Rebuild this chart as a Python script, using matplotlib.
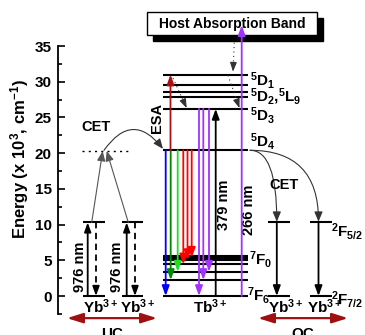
import numpy as np
import matplotlib
matplotlib.use('Agg')
import matplotlib.pyplot as plt
from matplotlib.patches import FancyArrowPatch, Rectangle

plt.rcParams['font.family'] = ['Liberation Sans', 'DejaVu Sans']
plt.rcParams['font.weight'] = 'bold'
plt.rcParams['mathtext.default'] = 'regular'

# Energy levels, in 10^3 cm^-1
yb_levels = [0.0, 10.3]                          # Yb3+ 2F7/2, 2F5/2
tb_5d_levels = [31.0, 29.6, 28.5, 27.8, 26.2]    # 5D1, 5D2/5L9 ..., 5D3
tb_5d4 = 20.4
tb_7f_levels = [5.64, 5.36, 5.03, 4.43, 3.4, 2.24, 0.0]   # 7F0 ... 7F6
uc_pair_level = 20.3
host_band_top = 37.9

# emission from 5D4 and 5D3: (colour, final 7F_J)
d4_emission = [('#0000ff', 6), ('#008800', 5), ('#22dd22', 4),
               ('#ff0000', 3), ('#ff0000', 2), ('#ff0000', 1)]
d3_emission = [('#a033ff', 6), ('#a033ff', 5), ('#a033ff', 4)]
excitations = [('379 nm', 'black', 26.2), ('266 nm', '#a033ff', host_band_top)]

# horizontal layout (x runs over the figure width)
d4_x = [165.7, 170.7, 177.7, 183.3, 187.5, 191.7]
d3_x = [199.0, 203.3, 209.0]
tb_span = (163, 248)
uc_spans = [(82.7, 105.0), (121.7, 143.3)]
qc_spans = [(268.3, 290.0), (310.0, 331.7)]

k = 250 / 35.0   # pixels per unit energy

fig = plt.figure(figsize=(3.65, 3.35), dpi=100)
ax = fig.add_axes([0, 0, 1, 1])
ax.set_xlim(0, 365)
ax.set_ylim(-39 / k, 296 / k)
ax.patch.set_visible(False)
for s in ['top', 'right', 'bottom']:
    ax.spines[s].set_visible(False)
ax.spines['left'].set_position(('data', 58.3))
ax.spines['left'].set_bounds(-2.5, 35)
ax.spines['left'].set_linewidth(1.3)
ax.set_xticks([])
ax.set_yticks(np.arange(0, 36, 5))
ax.set_yticks(np.arange(-2.5, 35, 2.5), minor=True)
ax.tick_params(axis='y', which='both', direction='in', width=1.2, labelsize=11, pad=4.6)
ax.tick_params(axis='y', which='major', length=5)
ax.tick_params(axis='y', which='minor', length=3)
ax.text(20, 19.2, 'Energy (x 10$^3$, cm$^{-1}$)', rotation=90, ha='center', va='center', fontsize=12)


def arrow(x0, y0, x1, y1, color='black', lw=1.1, hl=0.55, hw=0.2, ms=10, z=3, conn='arc3', style='-|>'):
    ax.add_patch(FancyArrowPatch((x0, y0), (x1, y1),
                                 arrowstyle=f'{style},head_length={hl},head_width={hw}',
                                 mutation_scale=ms, color=color, lw=lw, shrinkA=0, shrinkB=0,
                                 connectionstyle=conn, zorder=z))


def broken_arrow(x0, y0, x1, y1, ls, color='black', lw=1.1, head=7.6):
    # shaft drawn with a line style, solid head on top
    dx, dy = x1 - x0, (y1 - y0) * k
    n = np.hypot(dx, dy)
    bx, by = x1 - dx / n * head, y1 - dy / n * head / k
    ax.plot([x0, bx], [y0, by], color=color, lw=lw, ls=ls, zorder=3)
    arrow(bx, by, x1, y1, color=color, lw=lw)


def level(x0, x1, e, lw=1.5):
    ax.plot([x0, x1], [e, e], color='black', lw=lw, solid_capstyle='butt', zorder=2)


# Tb3+ levels
for e in tb_5d_levels + [tb_5d4] + tb_7f_levels:
    level(*tb_span, e)

# Yb3+ pairs
for x0, x1 in uc_spans + qc_spans:
    for e in yb_levels:
        level(x0, x1, e)

# upconversion: 976 nm absorption and cooperative transfer
for (x0, x1), lab_x in zip(uc_spans, [80, 117]):
    arrow(x0 + 5, yb_levels[0], x0 + 5, yb_levels[1], lw=1.3)
    broken_arrow(x0 + 13.3, yb_levels[1], x0 + 13.3, yb_levels[0], (0, (3.5, 2.5)), lw=1.3)
    ax.text(lab_x, 4.1, '976 nm', rotation=90, ha='center', va='center', fontsize=10.5)
ax.plot([82, 130], [uc_pair_level, uc_pair_level], color='black', lw=1,
        ls=(0, (1.5, 3)), zorder=2)
arrow(91.7, yb_levels[1], 102.7, uc_pair_level, color='#555555', lw=0.8, hl=0.6, hw=0.25)
arrow(128.3, yb_levels[1], 106.7, uc_pair_level, color='#555555', lw=0.8, hl=0.6, hw=0.25)
arrow(104, uc_pair_level + 0.1, 163, tb_5d4 + 0.2, color='#333333', lw=0.8,
      conn='arc3,rad=-0.67', hl=0.6, hw=0.25)
ax.text(95.5, 23.7, 'CET', ha='center', va='center', fontsize=10.5)

# emission from 5D4 and 5D3
for x, (c, j) in zip(d4_x, d4_emission):
    arrow(x, tb_5d4, x, tb_7f_levels[j], color=c, lw=1.3, hl=0.6, hw=0.22)
for x, (c, j) in zip(d3_x, d3_emission):
    arrow(x, tb_5d_levels[-1], x, tb_7f_levels[j], color=c, lw=1.3, hl=0.6, hw=0.22)

# ESA
arrow(170.5, tb_5d4, 170.5, tb_5d_levels[0], color='#aa1111', lw=1.3, hl=0.6, hw=0.22, z=4)
ax.text(157, 24.9, 'ESA', rotation=90, ha='center', va='center', fontsize=10.5)

# excitation at 379 nm and 266 nm
for (lab, c, top), x, lx in zip(excitations, [215.7, 241.7], [224, 249]):
    arrow(x, 0, x, top, color=c, lw=1.3, hl=0.6, hw=0.22, z=6)
ax.text(224, 12.7, '379 nm', rotation=90, ha='center', va='center', fontsize=10.5)
ax.text(249, 12.1, '266 nm', rotation=90, ha='center', va='center', fontsize=10.5)

# host absorption band box with a drop shadow
ax.add_patch(Rectangle((153, 35.7), 170, 3.26, facecolor='black', edgecolor='black', zorder=4))
ax.add_patch(Rectangle((147, 36.54), 170, 3.26, facecolor='white', edgecolor='black',
                       lw=1, zorder=5))
ax.text(232, 38.15, 'Host Absorption Band', ha='center', va='center', fontsize=10, zorder=5)

# non-radiative relaxation
broken_arrow(234.5, 36.1, 233, 31.4, (0, (1, 3)), color='#333333', lw=0.8)
broken_arrow(228, 30.9, 239.5, 26.3, (0, (1, 3)), color='#333333', lw=0.8)
broken_arrow(173, 30.5, 186.7, 26.3, (0, (1, 3)), color='#333333', lw=0.8)

# quantum cutting: cooperative transfer to two Yb3+
for x0, x1 in qc_spans:
    xm = x0 + 8.5
    arrow(250, tb_5d4, xm, yb_levels[1] + 0.1, color='#333333', lw=0.8,
          conn='angle3,angleA=0,angleB=90', hl=0.6, hw=0.25)
    arrow(xm, yb_levels[1], xm, yb_levels[0], lw=1.3, hl=0.6, hw=0.22)
ax.text(284, 15.5, 'CET', ha='center', va='center', fontsize=10.5)

# level labels
labels = [('$^5$D$_1$', 250, 29.5), ('$^5$D$_2$,', 250, 27.2), ('$^5$L$_9$', 278, 27.2),
          ('$^5$D$_3$', 250, 24.5), ('$^5$D$_4$', 250, 20.9),
          ('$^7$F$_0$', 249, 4.34), ('$^7$F$_6$', 247, -0.7),
          ('$^2$F$_{5/2}$', 331, 8.3), ('$^2$F$_{7/2}$', 331, -1.26)]
for s, x, y in labels:
    ax.text(x, y, s, ha='left', va='baseline', fontsize=11)
for x in [83.3, 120, 268.3, 306.7]:
    ax.text(x, -2.4, 'Yb$^{3+}$', ha='left', va='baseline', fontsize=11)
ax.text(193.3, -2.4, 'Tb$^{3+}$', ha='left', va='baseline', fontsize=11)

# UC / QC brackets
for x0, x1, lab in [(67, 157, 'UC'), (258, 348, 'QC')]:
    arrow(x0, -3.1, x1, -3.1, color='#a01010', lw=1.6, style='<|-|>', hl=0.95, hw=0.3)
    ax.text((x0 + x1) / 2, -5.9, lab, ha='center', va='baseline', fontsize=11)

fig.savefig('out.png', dpi=100)
